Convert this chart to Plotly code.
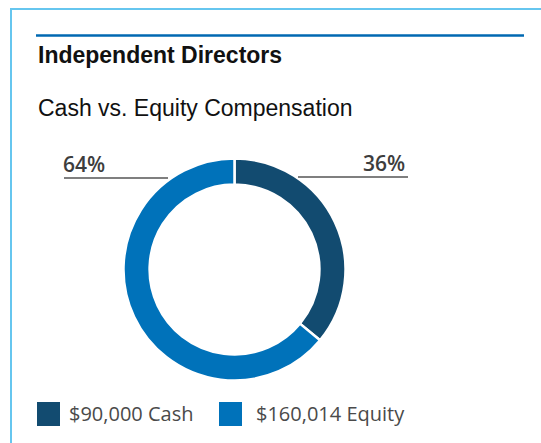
import plotly.graph_objects as go

# Compensation mix for independent directors
categories = ["Cash", "Equity"]
amounts = [90000, 160014]
colors = ["#124b70", "#0072ba"]

W, H = 541, 443


def px(x):
    return x / W


def py(y):
    return 1 - y / H


total = sum(amounts)
pcts = [round(100 * a / total) for a in amounts]

cx, cy, r = 234.5, 269.5, 111

fig = go.Figure(
    go.Pie(
        labels=categories,
        values=amounts,
        hole=0.765,
        sort=False,
        direction="clockwise",
        rotation=0,
        marker=dict(colors=colors, line=dict(color="white", width=2.5)),
        textinfo="none",
        hoverinfo="label+value+percent",
        showlegend=False,
        domain=dict(x=[px(cx - r), px(cx + r)], y=[py(cy + r), py(cy - r)]),
    )
)

shapes = [
    # frame edges
    dict(type="line", xref="paper", yref="paper", x0=px(11), x1=px(11), y0=py(9), y1=py(H),
         line=dict(color="#66c6ef", width=2)),
    dict(type="line", xref="paper", yref="paper", x0=px(10), x1=1, y0=py(9), y1=py(9),
         line=dict(color="#66c6ef", width=2)),
    # rule above the heading
    dict(type="line", xref="paper", yref="paper", x0=px(36), x1=px(524), y0=py(35.5), y1=py(35.5),
         line=dict(color="#0068b2", width=2.5)),
    # leader lines under the percentage labels
    dict(type="line", xref="paper", yref="paper", x0=px(64), x1=px(168), y0=py(178), y1=py(178),
         line=dict(color="#555555", width=1.5)),
    dict(type="line", xref="paper", yref="paper", x0=px(298), x1=px(408), y0=py(177), y1=py(177),
         line=dict(color="#555555", width=1.5)),
]

annotations = [
    dict(text="<b>Independent Directors</b>", x=px(36), y=py(55), xanchor="left", yanchor="middle",
         font=dict(family="Liberation Sans, Arial", size=23, color="#111111")),
    dict(text="Cash vs. Equity Compensation", x=px(36), y=py(108), xanchor="left", yanchor="middle",
         font=dict(family="Liberation Sans, Arial", size=23, color="#111111")),
    dict(text=f"{pcts[1]}%", x=px(61), y=py(164), xanchor="left", yanchor="middle",
         font=dict(family="Open Sans", size=21, color="#3d3d3d", weight=600)),
    dict(text=f"{pcts[0]}%", x=px(407), y=py(163), xanchor="right", yanchor="middle",
         font=dict(family="Open Sans", size=21, color="#3d3d3d", weight=600)),
]

# legend swatches and captions
legend_x = [37, 219]
legend_text_x = [67, 254]
for i, cat in enumerate(categories):
    x0 = legend_x[i]
    shapes.append(dict(type="rect", xref="paper", yref="paper", x0=px(x0), x1=px(x0 + 23),
                       y0=py(426), y1=py(402), fillcolor=colors[i], line=dict(width=0)))
    annotations.append(dict(text=f"${amounts[i]:,} {cat}", x=px(legend_text_x[i]), y=py(413),
                            xanchor="left", yanchor="middle",
                            font=dict(family="Open Sans", size=20, color="#4a4a4a")))

for a in annotations:
    a.update(xref="paper", yref="paper", showarrow=False)

fig.update_layout(
    width=W, height=H,
    margin=dict(l=0, r=0, t=0, b=0),
    paper_bgcolor="white", plot_bgcolor="white",
    shapes=shapes, annotations=annotations,
)

fig.write_html("out.html", config={"displayModeBar": False})
